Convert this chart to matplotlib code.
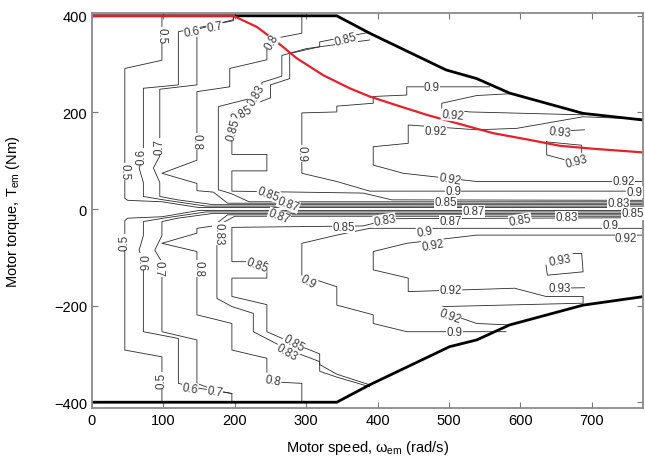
import matplotlib
matplotlib.use('Agg')
import matplotlib.pyplot as plt

plt.rcParams['font.family'] = ['Liberation Sans', 'DejaVu Sans']
plt.rcParams['mathtext.fontset'] = 'custom'
plt.rcParams['mathtext.rm'] = 'Liberation Sans'

# ticks
speed_ticks = [0, 100, 200, 300, 400, 500, 600, 700]
torque_ticks = [-400, -200, 0, 200, 400]

# max torque curve (red)
red_speed = [0, 198, 231, 259, 287, 324, 361, 389, 420, 469, 520, 562, 610, 655, 700, 774]
red_torque = [400, 400, 377, 346, 312, 277, 250, 233, 218, 195, 174, 157, 144, 131, 125, 117]

# operating envelope (thick black)
top_speed = [0, 343, 389, 496, 539, 585, 688, 774]
top_torque = [400, 400, 364, 288, 270, 240, 198, 184]
bot_speed = [0, 343, 389, 501, 539, 585, 688, 774]
bot_torque = [-400, -400, -364, -285, -271, -240, -199, -181]

# efficiency contours, upper half (speed rad/s, torque Nm)
c05u_s = [98, 98, 46, 46, 50, 98, 150, 775]
c05u_t = [400, 308, 291, 22, 18, 15, 3, 3]
c06u_s = [198, 198, 121, 121, 72, 72, 66, 72, 72, 100, 160, 775]
c06u_t = [400, 390, 367, 257, 250, 110, 85, 55, 26, 19, 6, 6]
c07u_s = [198, 198, 147, 147, 95, 95, 86, 95, 95, 120, 170, 775]
c07u_t = [400, 392, 372, 257, 248, 110, 85, 55, 26, 19, 9, 9]
c08u_s = [294, 294, 245, 245, 193, 193, 147, 147, 98, 147, 147, 170, 190, 775]
c08u_t = [402, 364, 350, 309, 291, 253, 243, 101, 74, 53, 38, 35, 12, 12]
c083u_s = [389, 300, 266, 266, 238, 238, 177, 177, 195, 220, 775]
c083u_t = [350, 332, 318, 275, 262, 235, 212, 40, 32, 15, 15]
c085u_s = [389, 319, 319, 277, 277, 250, 250, 196, 196, 245, 245, 196, 196, 380, 420, 775]
c085u_t = [366, 346, 336, 322, 270, 257, 230, 200, 113, 113, 79, 79, 37, 33, 19, 18]
c09u_s = [557, 441, 441, 394, 394, 343, 343, 294, 294, 343, 389, 775]
c09u_t = [253, 253, 236, 233, 219, 213, 201, 199, 74, 57, 37, 37]
c092u_s = [774, 539, 436, 394, 394, 443, 443, 539, 595, 688, 774]
c092u_t = [57, 57, 74, 91, 129, 136, 174, 164, 167, 191, 186]
c092u2_s = [590, 539, 490, 490, 529, 688]
c092u2_t = [239, 235, 219, 208, 201, 195]
c093u_s = [637, 637, 665, 686, 686, 637]
c093u_t = [139, 112, 101, 108, 132, 139]
c093u2_s = [640, 690]
c093u2_t = [160, 164]

# efficiency contours, lower half
c05l_s = [775, 150, 98, 50, 46, 46, 98, 98]
c05l_t = [-3, -3, -16, -19, -24, -292, -306, -400]
c06l_s = [775, 160, 100, 72, 72, 66, 72, 72, 121, 121, 150, 196, 196]
c06l_t = [-6, -6, -19, -26, -55, -85, -110, -254, -268, -361, -371, -382, -400]
c07l_s = [775, 170, 120, 98, 98, 88, 98, 98, 147, 147, 172, 196]
c07l_t = [-9, -9, -19, -26, -55, -85, -110, -254, -271, -361, -375, -382]
c08l_s = [775, 190, 170, 147, 147, 98, 147, 147, 196, 196, 245, 245, 294, 294]
c08l_t = [-12, -12, -35, -40, -50, -71, -88, -219, -237, -292, -309, -357, -361, -400]
c083l_s = [775, 200, 175, 175, 196, 226, 226, 273, 319, 319, 343, 389]
c083l_t = [-15, -15, -35, -185, -202, -216, -254, -290, -316, -336, -348, -368]
c085l_s = [775, 420, 380, 196, 196, 245, 245, 196, 196, 245, 245, 282, 319, 319, 343, 389]
c085l_t = [-18, -20, -35, -38, -109, -109, -143, -143, -181, -198, -254, -278, -300, -322, -342, -364]
c09l_s = [775, 389, 343, 294, 294, 343, 343, 394, 394, 441, 580]
c09l_t = [-40, -40, -54, -71, -137, -161, -199, -219, -237, -254, -254]
c092l_s = [775, 539, 441, 394, 394, 443, 443, 592, 636, 688, 688, 490, 490, 539, 585]
c092l_t = [-54, -54, -71, -88, -126, -143, -171, -164, -181, -181, -195, -202, -212, -237, -240]
c093l_s = [636, 638, 688, 686, 674]
c093l_t = [-116, -137, -130, -92, -92]
c093l2_s = [640, 690]
c093l2_t = [-164, -163]

contours = [
    (c05u_s, c05u_t), (c06u_s, c06u_t), (c07u_s, c07u_t), (c08u_s, c08u_t),
    (c083u_s, c083u_t), (c085u_s, c085u_t), (c09u_s, c09u_t), (c092u_s, c092u_t),
    (c092u2_s, c092u2_t), (c093u_s, c093u_t), (c093u2_s, c093u2_t),
    (c05l_s, c05l_t), (c06l_s, c06l_t), (c07l_s, c07l_t), (c08l_s, c08l_t),
    (c083l_s, c083l_t), (c085l_s, c085l_t), (c09l_s, c09l_t), (c092l_s, c092l_t),
    (c093l_s, c093l_t), (c093l2_s, c093l2_t),
]

# contour labels: text, speed, torque, rotation
labels = [
    ('0.5', 98, 360, -90), ('0.6', 140, 368, 10), ('0.7', 172, 377, 10),
    ('0.5', 46, 78, -90), ('0.6', 70, 110, 90), ('0.7', 95, 130, 90),
    ('0.8', 147, 140, -90), ('0.8', 252, 346, 60), ('0.85', 355, 352, 15),
    ('0.83', 231, 236, 60), ('0.85', 210, 198, 30), ('0.85', 198, 165, 75),
    ('0.9', 294, 115, -90), ('0.9', 476, 253, 0), ('0.92', 505, 195, -5),
    ('0.92', 481, 162, 0), ('0.93', 655, 159, -5), ('0.93', 679, 100, 15),
    ('0.92', 501, 63, -10), ('0.92', 745, 57, 0), ('0.9', 506, 37, 0),
    ('0.9', 760, 35, 0),
    ('0.5', 46, -68, 90), ('0.6', 70, -109, -90), ('0.7', 93, -123, -90),
    ('0.8', 149, -123, -90), ('0.83', 177, -50, -90), ('0.85', 231, -116, -20),
    ('0.9', 303, -150, -30), ('0.92', 478, -75, 10), ('0.9', 466, -46, 10),
    ('0.92', 748, -60, 0), ('0.9', 726, -33, 0),
    ('0.93', 655, -106, 10), ('0.93', 655, -164, 0),
    ('0.92', 502, -168, 0), ('0.92', 501, -221, -20), ('0.9', 508, -255, 0),
    ('0.85', 282, -278, -30), ('0.83', 273, -295, -30), ('0.8', 254, -354, -10),
    ('0.5', 98, -354, 90), ('0.6', 137, -371, -10), ('0.7', 172, -378, -10),
    ('0.85', 247, 32, -20), ('0.87', 275, 10, -20), ('0.87', 262, -15, -20),
    ('0.85', 352, -37, 0), ('0.83', 410, -23, 10),
    ('0.85', 495, 15, 0), ('0.87', 535, -5, 0), ('0.87', 502, -25, 0),
    ('0.85', 600, -23, 10), ('0.83', 665, -16, 0),
    ('0.83', 738, 12, 0), ('0.85', 757, -9, 0),
]

fig = plt.figure(figsize=(6.45, 4.64), dpi=100)
ax = fig.add_axes([0.1426, 0.1185, 0.8544, 0.8515])

for s, t in contours:
    ax.plot(s, t, color='#2a2a2a', lw=0.6)

for txt, s, t, rot in labels:
    ax.text(s, t, txt, fontsize=8.3, color='#3a3a3a', rotation=rot,
            ha='center', va='center', rotation_mode='anchor',
            bbox=dict(boxstyle='square,pad=0.02', fc='white', ec='none'))

ax.plot(top_speed, top_torque, color='black', lw=2.0)
ax.plot(bot_speed, bot_torque, color='black', lw=2.0)
ax.plot(red_speed, red_torque, color='#e8202a', lw=1.6)

ax.set_xlim(0, 772)
ax.set_ylim(-412, 406)
ax.set_xticks(speed_ticks)
ax.set_yticks(torque_ticks)
ax.set_yticklabels(['\u2212400', '\u2212200', '0', '200', '400'])
ax.tick_params(direction='in', top=True, right=True, length=4, width=0.8,
               color='#777777', labelsize=10.5)
for sp in ax.spines.values():
    sp.set_color('#8a8a8a')
    sp.set_linewidth(1.3)

ax.set_xlabel('Motor speed, \u03c9$_{\\mathrm{em}}$ (rad/s)', fontsize=10.5)
ax.set_ylabel('Motor torque, T$_{\\mathrm{em}}$ (Nm)', fontsize=10.5)
ax.yaxis.set_label_coords(-0.127, 0.5)
ax.xaxis.set_label_coords(0.5, -0.075)

fig.savefig('out.png', dpi=100)
